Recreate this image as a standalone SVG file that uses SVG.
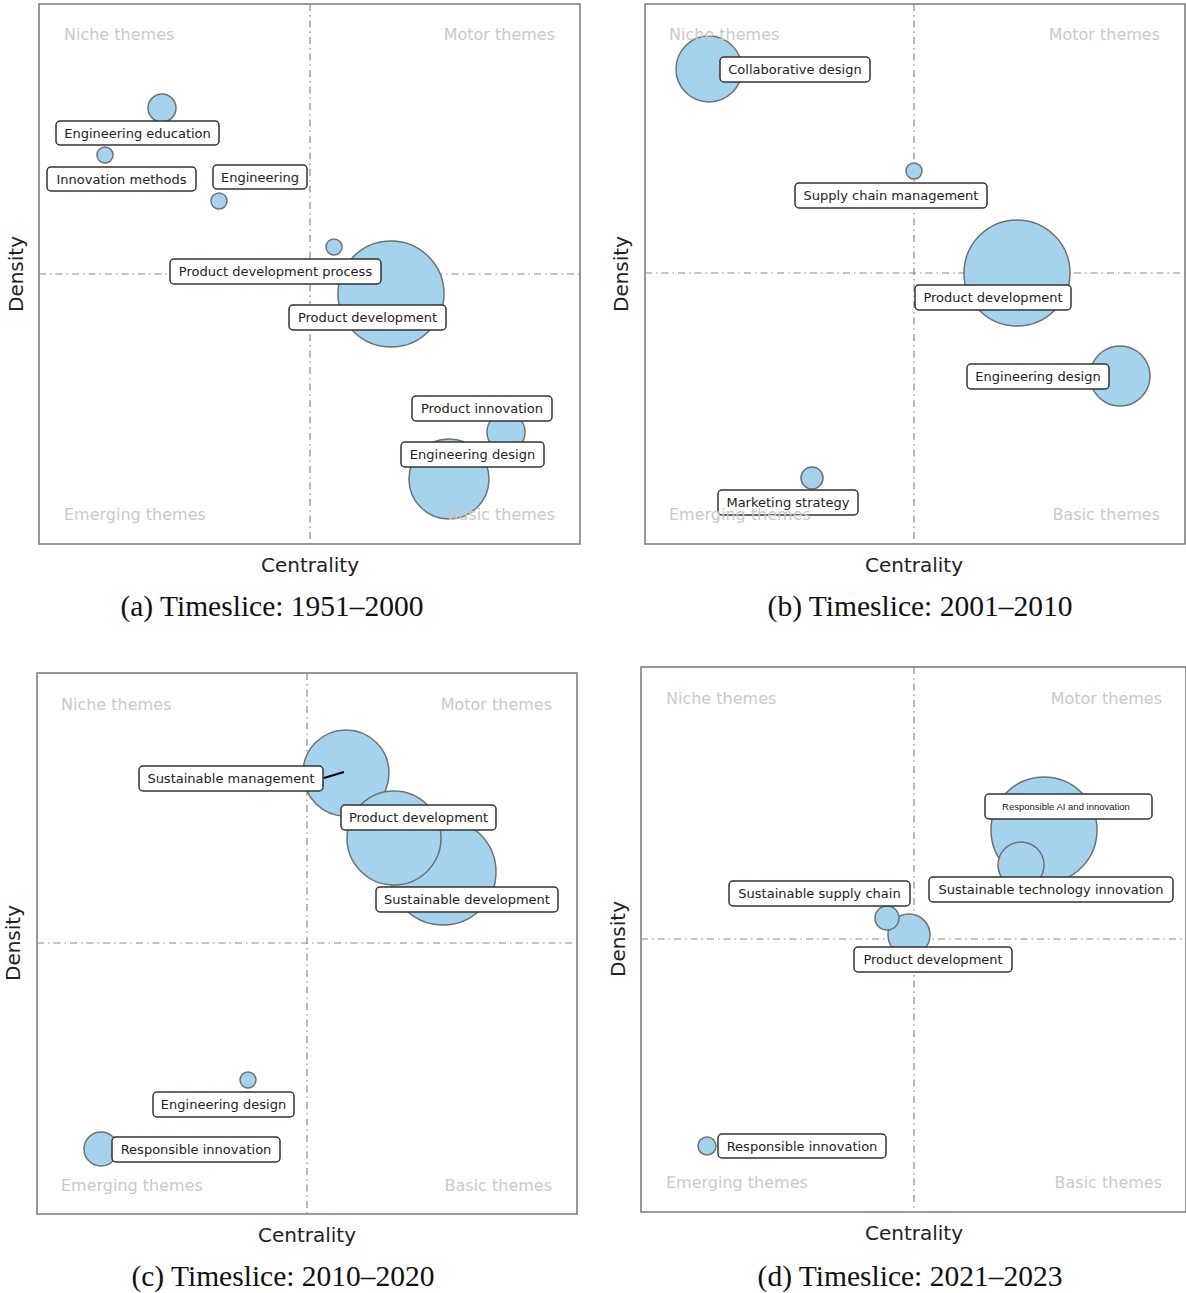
<svg xmlns="http://www.w3.org/2000/svg" width="1186" height="1293" viewBox="0 0 1186 1293">
<style>
.bg{fill:#fff}
.frame{fill:none;stroke:#777;stroke-width:1.5}
.qline{stroke:#8a8a8a;stroke-width:1.2;stroke-dasharray:7,4,1.5,4;fill:none}
.quad{font-family:"DejaVu Sans",sans-serif;font-size:16px;fill:#c9c9c9}
.axis{font-family:"DejaVu Sans",sans-serif;font-size:20px;fill:#222}
.cap{font-family:"Liberation Serif",serif;font-size:29.5px;fill:#111}
.bub{fill:#a5d3ed;stroke:#707070;stroke-width:1.5}
.lbl{fill:#fff;stroke:#333;stroke-width:1.5}
.lt{font-family:"DejaVu Sans",sans-serif;font-size:13px;fill:#222;text-anchor:middle}
.lts{font-family:"Liberation Sans",sans-serif;font-size:9.5px;fill:#222;text-anchor:middle}
.conn{stroke:#000;stroke-width:2;fill:none}
</style>
<rect class="bg" x="0" y="0" width="1186" height="1293"/>

<!-- Panel (a) -->
<g id="panel-a">
<rect class="frame" x="39" y="4" width="541" height="540"/>
<line class="qline" x1="310" y1="4" x2="310" y2="544"/>
<line class="qline" x1="39" y1="274" x2="580" y2="274"/>
<g id="a-engineering-education"><circle class="bub" cx="162" cy="108" r="14"/><rect class="lbl" x="56" y="121" width="163" height="24" rx="4"/><text class="lt" x="137.5" y="137.5">Engineering education</text></g>
<g id="a-innovation-methods"><circle class="bub" cx="105" cy="155" r="8"/><rect class="lbl" x="47" y="167" width="149" height="24" rx="4"/><text class="lt" x="121.5" y="183.5">Innovation methods</text></g>
<g id="a-engineering"><circle class="bub" cx="219" cy="201" r="8"/><rect class="lbl" x="213" y="165" width="94" height="24" rx="4"/><text class="lt" x="260" y="181.5">Engineering</text></g>
<g id="a-product-development"><circle class="bub" cx="391" cy="294" r="53"/><rect class="lbl" x="289" y="305" width="157" height="25" rx="4"/><text class="lt" x="367.5" y="322">Product development</text></g>
<g id="a-product-development-process"><circle class="bub" cx="334" cy="247" r="8"/><rect class="lbl" x="170" y="259" width="211" height="25" rx="4"/><text class="lt" x="275.5" y="276">Product development process</text></g>
<g id="a-product-innovation"><circle class="bub" cx="506" cy="432" r="19"/><rect class="lbl" x="412" y="396" width="140" height="25" rx="4"/><text class="lt" x="482" y="413">Product innovation</text></g>
<g id="a-engineering-design"><circle class="bub" cx="449" cy="479" r="40"/><rect class="lbl" x="401" y="442" width="143" height="25" rx="4"/><text class="lt" x="472.5" y="459">Engineering design</text></g>
<text class="quad" x="64" y="40">Niche themes</text>
<text class="quad" x="555" y="40" text-anchor="end">Motor themes</text>
<text class="quad" x="64" y="520">Emerging themes</text>
<text class="quad" x="555" y="520" text-anchor="end">Basic themes</text>
<text class="axis" x="310" y="572" text-anchor="middle">Centrality</text>
<text class="axis" transform="translate(23,274) rotate(-90)" text-anchor="middle">Density</text>
<text class="cap" x="272" y="616" text-anchor="middle">(a) Timeslice: 1951–2000</text>
</g>

<!-- Panel (b) -->
<g id="panel-b">
<rect class="frame" x="645" y="4" width="540" height="540"/>
<line class="qline" x1="914" y1="4" x2="914" y2="544"/>
<line class="qline" x1="645" y1="273" x2="1185" y2="273"/>
<g id="b-collaborative-design"><circle class="bub" cx="709" cy="69" r="33"/><rect class="lbl" x="720" y="57" width="150" height="25" rx="4"/><text class="lt" x="795" y="74">Collaborative design</text></g>
<g id="b-supply-chain-management"><circle class="bub" cx="914" cy="171" r="8"/><rect class="lbl" x="795" y="183" width="192" height="25" rx="4"/><text class="lt" x="891" y="200">Supply chain management</text></g>
<g id="b-product-development"><circle class="bub" cx="1017" cy="273" r="53"/><rect class="lbl" x="915" y="285" width="156" height="25" rx="4"/><text class="lt" x="993" y="302">Product development</text></g>
<g id="b-engineering-design"><circle class="bub" cx="1120" cy="376" r="30"/><rect class="lbl" x="967" y="364" width="142" height="25" rx="4"/><text class="lt" x="1038" y="381">Engineering design</text></g>
<g id="b-marketing-strategy"><circle class="bub" cx="812" cy="478" r="11"/><rect class="lbl" x="718" y="490" width="140" height="25" rx="4"/><text class="lt" x="788" y="507">Marketing strategy</text></g>
<text class="quad" x="669" y="40">Niche themes</text>
<text class="quad" x="1160" y="40" text-anchor="end">Motor themes</text>
<text class="quad" x="669" y="520">Emerging themes</text>
<text class="quad" x="1160" y="520" text-anchor="end">Basic themes</text>
<text class="axis" x="914" y="572" text-anchor="middle">Centrality</text>
<text class="axis" transform="translate(628,274) rotate(-90)" text-anchor="middle">Density</text>
<text class="cap" x="920" y="616" text-anchor="middle">(b) Timeslice: 2001–2010</text>
</g>

<!-- Panel (c) -->
<g id="panel-c">
<rect class="frame" x="37" y="673" width="540" height="541"/>
<line class="qline" x1="307" y1="673" x2="307" y2="1214"/>
<line class="qline" x1="37" y1="943" x2="577" y2="943"/>
<text class="quad" x="61" y="710">Niche themes</text>
<text class="quad" x="552" y="710" text-anchor="end">Motor themes</text>
<text class="quad" x="61" y="1191">Emerging themes</text>
<text class="quad" x="552" y="1191" text-anchor="end">Basic themes</text>
<g id="c-sustainable-management"><circle class="bub" cx="346" cy="773" r="43"/><rect class="lbl" x="139" y="766" width="184" height="25" rx="4"/><text class="lt" x="231" y="783">Sustainable management</text></g>
<g id="c-sustainable-development"><circle class="bub" cx="443" cy="872" r="53"/><rect class="lbl" x="376" y="887" width="182" height="25" rx="4"/><text class="lt" x="467" y="904">Sustainable development</text></g>
<g id="c-product-development"><circle class="bub" cx="394" cy="838" r="47"/><rect class="lbl" x="341" y="805" width="155" height="25" rx="4"/><text class="lt" x="418.5" y="822">Product development</text></g>
<g id="c-engineering-design"><circle class="bub" cx="248" cy="1080" r="8"/><rect class="lbl" x="153" y="1092" width="141" height="25" rx="4"/><text class="lt" x="223.5" y="1109">Engineering design</text></g>
<g id="c-responsible-innovation"><circle class="bub" cx="101" cy="1149" r="17"/><rect class="lbl" x="112" y="1137" width="168" height="25" rx="4"/><text class="lt" x="196" y="1154">Responsible innovation</text></g>
<text class="axis" x="307" y="1242" text-anchor="middle">Centrality</text>
<text class="axis" transform="translate(20,943) rotate(-90)" text-anchor="middle">Density</text>
<text class="cap" x="283" y="1286" text-anchor="middle">(c) Timeslice: 2010–2020</text>
</g>

<!-- Panel (d) -->
<g id="panel-d">
<rect class="frame" x="641" y="667" width="545" height="545"/>
<line class="qline" x1="914" y1="667" x2="914" y2="1212"/>
<line class="qline" x1="641" y1="939" x2="1186" y2="939"/>
<text class="quad" x="666" y="704">Niche themes</text>
<text class="quad" x="1162" y="704" text-anchor="end">Motor themes</text>
<text class="quad" x="666" y="1188">Emerging themes</text>
<text class="quad" x="1162" y="1188" text-anchor="end">Basic themes</text>
<g id="d-responsible-ai-and-innovation"><circle class="bub" cx="1044" cy="830" r="53"/><rect class="lbl" x="985" y="794" width="167" height="25" rx="4"/><text class="lts" x="1066" y="810">Responsible AI and innovation</text></g>
<g id="d-sustainable-technology-innovation"><circle class="bub" cx="1021" cy="865" r="23"/><rect class="lbl" x="929" y="877" width="244" height="25" rx="4"/><text class="lt" x="1051" y="894">Sustainable technology innovation</text></g>
<g id="d-product-development"><circle class="bub" cx="909" cy="935" r="21"/><rect class="lbl" x="854" y="947" width="158" height="25" rx="4"/><text class="lt" x="933" y="964">Product development</text></g>
<g id="d-sustainable-supply-chain"><circle class="bub" cx="887" cy="918" r="12"/><rect class="lbl" x="729" y="881" width="181" height="25" rx="4"/><text class="lt" x="819.5" y="898">Sustainable supply chain</text></g>
<g id="d-responsible-innovation"><circle class="bub" cx="707" cy="1146" r="9"/><rect class="lbl" x="718" y="1134" width="168" height="24" rx="4"/><text class="lt" x="802" y="1150.5">Responsible innovation</text></g>
<text class="axis" x="914" y="1240" text-anchor="middle">Centrality</text>
<text class="axis" transform="translate(625,939) rotate(-90)" text-anchor="middle">Density</text>
<text class="cap" x="910" y="1286" text-anchor="middle">(d) Timeslice: 2021–2023</text>
</g>

<!-- Connectors -->
<g id="connectors">
<line class="conn" x1="324" y1="778" x2="344" y2="772"/>
</g>
</svg>
